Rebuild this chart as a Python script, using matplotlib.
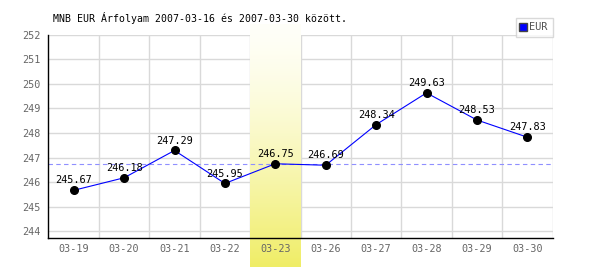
import numpy as np
import matplotlib
matplotlib.use("Agg")
import matplotlib.pyplot as plt
from matplotlib.lines import Line2D

dates = ["03-19", "03-20", "03-21", "03-22", "03-23",
         "03-26", "03-27", "03-28", "03-29", "03-30"]
eur = [245.67, 246.18, 247.29, 245.95, 246.75,
       246.69, 248.34, 249.63, 248.53, 247.83]
highlight = 4
ref_value = 246.75
yticks = list(range(244, 253))
title = "MNB EUR Árfolyam 2007-03-16 és 2007-03-30 között."

plt.rcParams['font.family'] = ['DejaVu Sans Mono', 'DejaVu Sans']

fig = plt.figure(figsize=(6, 2.7), dpi=100)
ax = fig.add_axes([48.5 / 600, 1 - 238.3 / 270, 504 / 600, (238.3 - 34.6) / 270])

x = np.arange(len(dates))
ax.set_xlim(-0.5, len(dates) - 0.5)
ax.set_ylim(243.72, 252.0)

# grid drawn by hand so the band can sit above it and below the labels
for yv in yticks:
    ax.axhline(yv, color="#d9d9d9", lw=1, zorder=0.5)
for xv in np.arange(0.5, len(dates) + 0.5, 1.0):
    ax.axvline(xv, color="#d9d9d9", lw=1, zorder=0.5)

# yellow gradient band behind the highlighted day
grad = np.linspace(0, 1, 256).reshape(-1, 1)
top = np.array([1.0, 1.0, 0.975])
bot = np.array([0.94, 0.93, 0.40])
img = top + (bot - top) * grad[..., None] ** 1.4
img = img.reshape(256, 1, 3)
ax.imshow(img, extent=[highlight - 0.5, highlight + 0.5, 242.54, 252.39],
          aspect="auto", origin="upper", zorder=1, clip_on=False)

ax.axhline(ref_value, color="#8f8fff", lw=0.8, ls=(0, (4, 3)), zorder=1.5)
ax.plot(x, eur, color="#0000ff", lw=0.8, zorder=2)
ax.plot(x, eur, "o", color="black", ms=5.5, zorder=3)
for xi, v in zip(x, eur):
    ax.annotate(f"{v:.2f}", (xi, v), xytext=(0, 3.5), textcoords="offset points",
                ha="center", va="bottom", fontsize=7.4, color="black", zorder=4)

ax.set_axisbelow(False)
ax.set_xticks(x)
ax.set_xticklabels(dates)
ax.set_yticks(yticks)
ax.tick_params(length=0, labelsize=7.3, colors="#666666", pad=4)
ax.tick_params(axis="y", pad=6)
for s in ["top", "right"]:
    ax.spines[s].set_visible(False)
ax.spines["left"].set_color("black")
ax.spines["bottom"].set_color("black")
ax.spines["left"].set_linewidth(1)
ax.spines["bottom"].set_linewidth(1)
ax.patch.set_alpha(0)

fig.text(53 / 600, 1 - 18 / 270, title, fontsize=7.1, va="center", ha="left")

handle = Line2D([], [], marker="s", color="#0000ff", markeredgecolor="#444444",
                markersize=5.5, lw=0)
leg = fig.legend([handle], ["EUR"], loc="lower right",
                 bbox_to_anchor=(552.5 / 600, 1 - 37 / 270), bbox_transform=fig.transFigure,
                 fontsize=7.4, frameon=True, fancybox=False, handlelength=0.6,
                 handletextpad=0.3, borderpad=0.45, borderaxespad=0)
leg.get_frame().set_edgecolor("#d0d0d0")
leg.get_frame().set_linewidth(1)
for t in leg.get_texts():
    t.set_color("#555555")

fig.savefig("out.png", dpi=100)
